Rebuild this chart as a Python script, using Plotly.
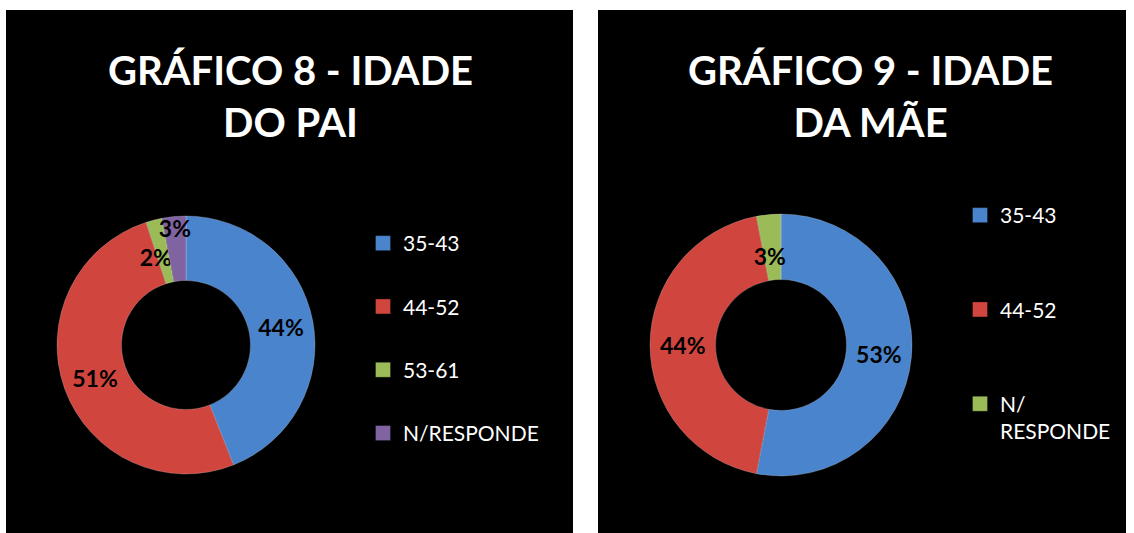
import plotly.graph_objects as go

W, H = 1134, 533

# ---- data ----
pai_labels = ["35-43", "44-52", "53-61", "N/RESPONDE"]
pai_values = [44, 51, 2, 3]
pai_colors = ["#4a84cc", "#d0463f", "#9bbb59", "#8064a2"]

mae_labels = ["35-43", "44-52", "N/<br>RESPONDE"]
mae_values = [53, 44, 3]
mae_colors = ["#4a84cc", "#d0463f", "#9bbb59"]

title_pai = "GRÁFICO 8 - IDADE<br>DO PAI"
title_mae = "GRÁFICO 9 - IDADE<br>DA MÃE"

FONT = "Lato"
PCT = "%{percent:.0%}"
LOW = "\u00a0<br>\u00a0<br>" + PCT   # label pushed towards the ring middle
pai_templates = [PCT, PCT, LOW, PCT]
mae_templates = [PCT, PCT, LOW]

def px(x):
    return x / W

def py(y):
    return 1 - y / H

fig = go.Figure()

# donuts
fig.add_trace(go.Pie(
    labels=pai_labels, values=pai_values, sort=False, direction="clockwise",
    rotation=0, hole=0.5, marker=dict(colors=pai_colors, line=dict(color="rgba(255,255,255,0.35)", width=0.6)),
    texttemplate=pai_templates, textposition="inside", insidetextorientation="horizontal",
    textfont=dict(family=FONT, size=23, color="black", weight="bold"),
    domain=dict(x=[px(57), px(315)], y=[py(474), py(216)]),
    showlegend=False, hoverinfo="label+percent",
))
fig.add_trace(go.Pie(
    labels=mae_labels, values=mae_values, sort=False, direction="clockwise",
    rotation=0, hole=0.5, marker=dict(colors=mae_colors, line=dict(color="rgba(255,255,255,0.35)", width=0.6)),
    texttemplate=mae_templates, textposition="inside", insidetextorientation="horizontal",
    textfont=dict(family=FONT, size=23, color="black", weight="bold"),
    domain=dict(x=[px(650), px(912)], y=[py(476), py(214)]),
    showlegend=False, hoverinfo="label+percent",
))

# legend entries (one per category, so spacing can be set)
for lab, col in zip(pai_labels, pai_colors):
    fig.add_trace(go.Scatter(
        x=[None], y=[None], mode="markers", name=lab, legend="legend", legendgroup="p" + lab,
        marker=dict(symbol="square", size=15, color=col, line=dict(color="rgba(0,0,0,0.3)", width=1)),
    ))
for lab, col in zip(mae_labels, mae_colors):
    fig.add_trace(go.Scatter(
        x=[None], y=[None], mode="markers", name=lab, legend="legend2", legendgroup="m" + lab,
        marker=dict(symbol="square", size=15, color=col, line=dict(color="rgba(0,0,0,0.3)", width=1)),
    ))

# panel backgrounds
fig.add_shape(type="rect", xref="paper", yref="paper", x0=px(6), x1=px(573), y0=0, y1=py(10),
              fillcolor="black", line=dict(width=0), layer="below")
fig.add_shape(type="rect", xref="paper", yref="paper", x0=px(598), x1=px(1126), y0=0, y1=py(10),
              fillcolor="black", line=dict(width=0), layer="below")

# titles
for t, xc in [(title_pai, 290), (title_mae, 870)]:
    fig.add_annotation(text=t, x=px(xc), y=py(96), xref="paper", yref="paper",
                       xanchor="center", yanchor="middle", showarrow=False,
                       font=dict(family=FONT, size=40, color="white", weight="bold"))

legfont = dict(family=FONT, size=21, color="white")
fig.update_layout(
    width=W, height=H, margin=dict(l=0, r=0, t=0, b=0),
    paper_bgcolor="white", plot_bgcolor="rgba(0,0,0,0)",
    xaxis=dict(visible=False), yaxis=dict(visible=False),
    uniformtext=dict(minsize=23, mode="show"),
    legend=dict(x=px(363), y=py(223), xanchor="left", yanchor="top", font=legfont,
                bgcolor="rgba(0,0,0,0)", traceorder="grouped", tracegroupgap=33, valign="top"),
    legend2=dict(x=px(960), y=py(195), xanchor="left", yanchor="top", font=legfont,
                 bgcolor="rgba(0,0,0,0)", traceorder="grouped", tracegroupgap=64, valign="top"),
)

fig.write_html("out.html", config={"displayModeBar": False},
               post_script="document.body.style.margin='0';")
